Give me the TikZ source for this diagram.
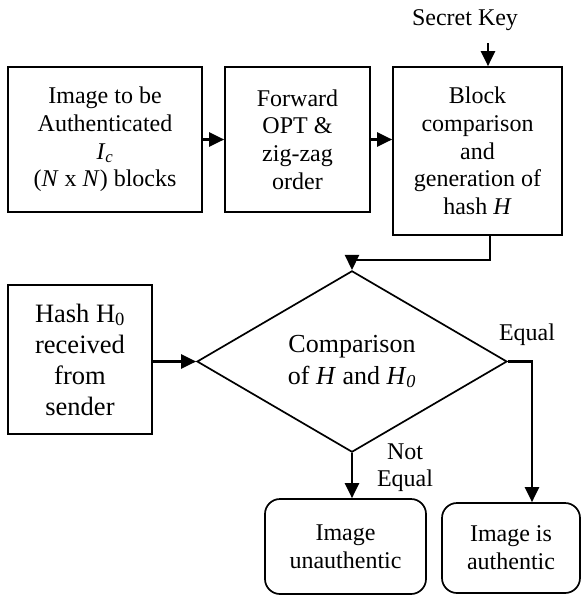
\documentclass[tikz,border=0pt]{standalone}
\usepackage{fontspec}
\setmainfont{Liberation Serif}
\usetikzlibrary{arrows.meta,shapes.geometric}
\begin{document}
\begin{tikzpicture}[x=1pt,y=1pt,
  box/.style={draw, line width=1.7pt, inner sep=0pt, align=center, font=\fontsize{24}{27.7}\selectfont},
  rbox/.style={box, rounded corners=15pt},
  dbox/.style={draw, diamond, line width=1.7pt, inner sep=0pt, align=center, font=\fontsize{26}{32}\selectfont},
  lbl/.style={inner sep=0pt, align=center, font=\fontsize{24}{27}\selectfont},
  conn/.style={line width=2.2pt, -{Triangle[length=15pt,width=14pt]}}]
\useasboundingbox (0,0) rectangle (582,-595);
\node[box, minimum width=194pt, minimum height=145pt] (b1) at (105,-139.5)
  {Image to be\\Authenticated\\\textit{I}\textsubscript{\textit{c}}\\(\textit{N} x \textit{N}) blocks};
\node[box, minimum width=145pt, minimum height=145pt] (b2) at (297.5,-139.5)
  {Forward\\OPT \&\\zig-zag\\order};
\node[box, minimum width=169pt, minimum height=168pt] (b3) at (477.5,-151)
  {Block\\comparison\\and\\generation of\\hash \textit{H}};
\node[lbl, anchor=base] (sk) at (465,-25) {Secret Key};
\coordinate (skin) at (488,-43);
\node[box, minimum width=144pt, minimum height=149pt, font=\fontsize{26.5}{31}\selectfont] (h0) at (80,-359.5)
  {Hash H\textsubscript{0}\\received\\from\\sender};
\node[dbox, minimum width=310pt, minimum height=143pt] (dia) at (352,-361.5)
  {Comparison\\of \textit{H} and \textit{H}\textsubscript{\textit{0}}};
\node[rbox, minimum width=161pt, minimum height=95pt] (r1) at (345.5,-546.5)
  {Image\\unauthentic};
\node[rbox, minimum width=138pt, minimum height=90pt] (r2) at (511,-548)
  {Image is\\authentic};
\node[lbl, anchor=base] (eq) at (527,-340) {Equal};
\node[lbl] (neq) at (405,-468) {Not\\Equal};
\draw[conn] (b1.east) -- (b1.east -| b2.west);
\draw[conn] (b2.east) -- (b2.east -| b3.west);
\draw[conn] (skin) -- (skin |- b3.north);
\draw[conn] ([xshift=12.5pt]b3.south) -- ++(0,-24) -| (dia.north);
\draw[conn] (h0.east |- dia.west) -- (dia.west);
\draw[conn] (dia.south) -- (dia.south |- r1.north);
\draw[conn] (dia.east) -| ([xshift=21pt]r2.north);
\end{tikzpicture}
\end{document}
